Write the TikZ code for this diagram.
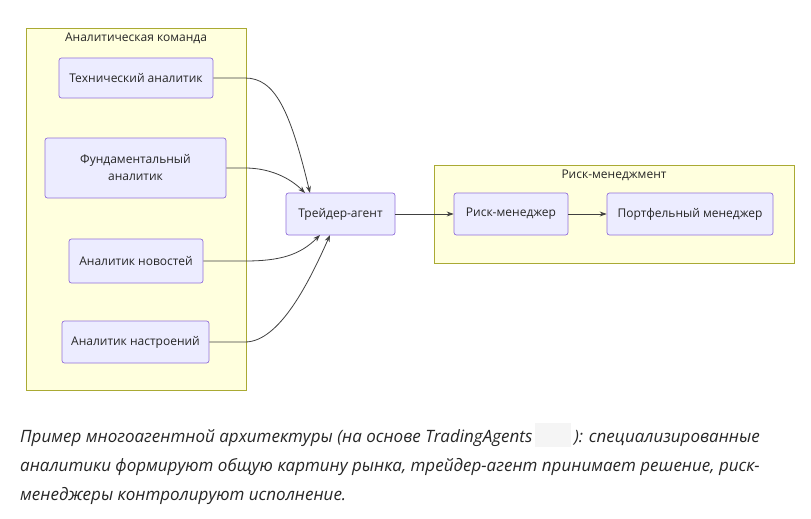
\documentclass[tikz,border=0pt]{standalone}
\usepackage{fontspec}
\setmainfont{Open Sans}
\usetikzlibrary{arrows.meta}
\definecolor{grp}{HTML}{FFFFDE}
\definecolor{grpb}{HTML}{AAAA33}
\definecolor{nd}{HTML}{ECECFF}
\definecolor{ndb}{HTML}{9370DB}
\begin{document}
\begin{tikzpicture}[x=1pt,y=-1pt,
 box/.style={draw=ndb,fill=nd,rounded corners=2.5pt,line width=0.7pt,align=center,font=\fontsize{12}{17}\selectfont,text=black!85,inner sep=0pt},
 grpbox/.style={draw=grpb,fill=grp,line width=0.7pt},
 lbl/.style={font=\fontsize{12}{14}\selectfont,text=black!85},
 arr/.style={draw=black!75,line width=0.8pt,-{Stealth[length=7pt,width=5pt]}}]
\useasboundingbox (0,0) rectangle (811,519);
\fill[white] (0,0) rectangle (811,519);
\draw[grpbox] (26,28) rectangle (246,390);
\node[lbl] (g1) at (136,38) {Аналитическая команда};
\draw[grpbox] (434,165) rectangle (794,263);
\node[lbl] (g2) at (614,175) {Риск-менеджмент};
\node[box,minimum width=154pt,minimum height=40pt] (tech) at (136,78) {Технический аналитик};
\node[box,minimum width=181pt,minimum height=60pt] (fund) at (135.5,168) {Фундаментальный\\аналитик};
\node[box,minimum width=134pt,minimum height=44pt] (news) at (136,261) {Аналитик новостей};
\node[box,minimum width=147pt,minimum height=42pt] (mood) at (135.5,342) {Аналитик настроений};
\node[box,minimum width=109pt,minimum height=42pt] (trader) at (340.5,214) {Трейдер-агент};
\node[box,minimum width=114pt,minimum height=42pt] (risk) at (511,214) {Риск-менеджер};
\node[box,minimum width=166pt,minimum height=42pt] (port) at (690,214) {Портфельный менеджер};
\coordinate (t1) at (310,193);
\coordinate (t2) at (305,193);
\coordinate (t3) at (320,235);
\coordinate (t4) at (330,235);
\draw[arr] (tech.east) -- (245,78) .. controls (275,78) and (290,110) .. (t1);
\draw[arr] (fund.east) -- (245,168) .. controls (270,168) and (290,178) .. (t2);
\draw[arr] (news.east) -- (245,261) .. controls (280,261) and (300,255) .. (t3);
\draw[arr] (mood.east) -- (245,342) .. controls (280,342) and (310,280) .. (t4);
\draw[arr] (trader.east) -- (risk.west);
\draw[arr] (risk.east) -- (port.west);
\node[anchor=west,font=\fontsize{17}{29}\selectfont\itshape,text=black!85,align=left,inner sep=0pt] (cap) at (20,464) {Пример многоагентной архитектуры (на основе TradingAgents\,{\color{black!4}\rule[-5pt]{36pt}{24pt}}\,): специализированные\\аналитики формируют общую картину рынка, трейдер-агент принимает решение, риск-\\менеджеры контролируют исполнение.};
\end{tikzpicture}
\end{document}
